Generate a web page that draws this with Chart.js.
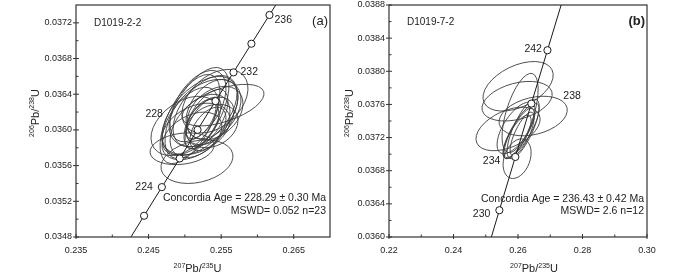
<!DOCTYPE html>
<html><head><meta charset="utf-8">
<script src="https://cdn.jsdelivr.net/npm/chart.js@4/dist/chart.umd.min.js"></script>
<style>
html,body{margin:0;padding:0;background:#fff;}
#wrap{position:relative;width:700px;height:273px;overflow:hidden;background:#fff}
#wa{position:absolute;left:0;top:0;width:335px;height:273px}
#wb{position:absolute;left:335px;top:0;width:365px;height:273px}
</style></head><body>
<div id="wrap"><div id="wa"><canvas id="ca" width="335" height="273"></canvas></div><div id="wb"><canvas id="cb" width="365" height="273"></canvas></div></div>
<script>
// ---------- Panel (a): D1019-2-2 ----------
const aSample = 'D1019-2-2';
const aPanel = '(a)';
const aAgeText = 'Concordia Age = 228.29 ± 0.30 Ma';
const aMswdText = 'MSWD= 0.052 n=23';
// analysis ellipses: 207Pb/235U, 2s, 206Pb/238U, 2s, rho
const aX    = [0.25526,0.25167,0.24961,0.25167,0.25209,0.25071,0.25278,0.25374,0.25209,0.25154,0.25291,0.25250,0.25346,0.25098,0.25415,0.25181,0.25374,0.25071,0.25319,0.25222,0.25415,0.25002,0.25278];
const aXerr = [0.00565,0.00496,0.00441,0.00441,0.00524,0.00413,0.00441,0.00358,0.00413,0.00469,0.00303,0.00248,0.00331,0.00413,0.00386,0.00386,0.00358,0.00386,0.00248,0.00207,0.00455,0.00469,0.00496];
const aY    = [0.036278,0.035644,0.035789,0.036189,0.036156,0.036122,0.036211,0.036233,0.036044,0.036011,0.036122,0.036078,0.036100,0.035933,0.036189,0.036267,0.036044,0.036100,0.036011,0.036122,0.036322,0.036044,0.036189];
const aYerr = [0.000233,0.000244,0.000178,0.000511,0.000444,0.000500,0.000400,0.000333,0.000356,0.000289,0.000333,0.000289,0.000267,0.000267,0.000300,0.000400,0.000244,0.000378,0.000244,0.000222,0.000356,0.000333,0.000378];
const aRho  = [0.55,0.25,0.20,0.60,0.50,0.60,0.50,0.40,0.45,0.35,0.60,0.65,0.40,0.40,0.35,0.50,0.25,0.55,0.50,0.60,0.40,0.40,0.40];
// concordia age marks (Ma) and their ratios
const aConcAge = [222,224,226,228,230,232,234,236];
const aConcX   = [0.24438,0.24683,0.24929,0.25175,0.25422,0.25670,0.25917,0.26166];
const aConcY   = [0.035038,0.035359,0.035680,0.036001,0.036323,0.036645,0.036966,0.037288];
const aLineX   = [0.24193,0.24438,0.24683,0.24929,0.25175,0.25422,0.25670,0.25917,0.26166,0.26414];
const aLineY   = [0.034716,0.035038,0.035359,0.035680,0.036001,0.036323,0.036645,0.036966,0.037288,0.037610];
const aXTicks  = [0.235,0.245,0.255,0.265];
const aXMinor  = [0.240,0.250,0.260];
const aYTicks  = [0.0348,0.0352,0.0356,0.0360,0.0364,0.0368,0.0372];
const aYMinor  = [0.0350,0.0354,0.0358,0.0362,0.0366,0.0370];
const aLabelAges = [224,228,232,236];

// ---------- Panel (b): D1019-7-2 ----------
const bSample = 'D1019-7-2';
const bPanel = '(b)';
const bAgeText = 'Concordia Age = 236.43 ± 0.42 Ma';
const bMswdText = 'MSWD= 2.6 n=12';
const bX    = [0.26003,0.25972,0.26470,0.25692,0.26065,0.25972,0.26096,0.26034,0.26159,0.25972,0.26128,0.25941];
const bXerr = [0.01089,0.01089,0.01058,0.00995,0.00560,0.00435,0.00560,0.00467,0.00498,0.00435,0.00373,0.00591];
const bY    = [0.037819,0.037639,0.037460,0.037304,0.037496,0.036945,0.037280,0.037256,0.037304,0.037209,0.037244,0.037316];
const bYerr = [0.000299,0.000239,0.000239,0.000263,0.000479,0.000239,0.000335,0.000299,0.000359,0.000263,0.000263,0.000311];
const bRho  = [0.45,0.35,0.30,0.45,0.60,0.30,0.80,0.80,0.75,0.75,0.75,0.65];
const bConcAge = [230,234,238,242];
const bConcX   = [0.25422,0.25917,0.26414,0.26913];
const bConcY   = [0.036323,0.036966,0.037610,0.038254];
const bLineX   = [0.24929,0.25422,0.25917,0.26414,0.26913,0.27414];
const bLineY   = [0.035680,0.036323,0.036966,0.037610,0.038254,0.038898];
const bXTicks  = [0.22,0.24,0.26,0.28,0.30];
const bXMinor  = [0.23,0.25,0.27,0.29];
const bYTicks  = [0.0360,0.0364,0.0368,0.0372,0.0376,0.0380,0.0384,0.0388];
const bYMinor  = [0.0362,0.0366,0.0370,0.0374,0.0378,0.0382,0.0386];
const bLabelAges = [230,234,238,242];

const FONT = '"Liberation Sans", Arial, Helvetica, sans-serif';
const INK = '#222';

function ellipsePlugin(E){
  return {id:'ellipses', beforeDatasetsDraw(chart){
    const {ctx, chartArea:ca, scales:{x,y}} = chart;
    ctx.save();
    ctx.beginPath(); ctx.rect(ca.left, ca.top, ca.right-ca.left, ca.bottom-ca.top); ctx.clip();
    ctx.strokeStyle = '#3c3c3c'; ctx.lineWidth = 0.9;
    for (let i=0;i<E.x.length;i++){
      const cx = x.getPixelForValue(E.x[i]), cy = y.getPixelForValue(E.y[i]);
      const ax = Math.abs(x.getPixelForValue(E.x[i]+E.sx[i]) - cx);
      const ay = Math.abs(y.getPixelForValue(E.y[i]+E.sy[i]) - cy);
      const r = -E.rho[i];
      const a = ax*ax, c = ay*ay, b = r*ax*ay;
      const m = (a+c)/2, q = Math.sqrt(((a-c)/2)**2 + b*b);
      const l1 = m+q, l2 = Math.max(m-q, 0.01);
      const th = 0.5*Math.atan2(2*b, a-c);
      ctx.beginPath(); ctx.ellipse(cx, cy, Math.sqrt(l1), Math.sqrt(l2), th, 0, Math.PI*2); ctx.stroke();
    }
    ctx.restore();
  }};
}

function framePlugin(T){
  return {id:'frame', afterDatasetsDraw(chart){
    const {ctx, chartArea:ca, scales:{x,y}} = chart;
    ctx.save(); ctx.strokeStyle = '#333'; ctx.lineWidth = 1.2;
    ctx.strokeRect(ca.left, ca.top, ca.right-ca.left, ca.bottom-ca.top);
    ctx.lineWidth = 1;
    ctx.beginPath();
    T.xMajor.forEach(v=>{const p=x.getPixelForValue(v); ctx.moveTo(p, ca.bottom+2); ctx.lineTo(p, ca.bottom-3);});
    T.xMinor.forEach(v=>{const p=x.getPixelForValue(v); ctx.moveTo(p, ca.bottom); ctx.lineTo(p, ca.bottom-2.5);});
    T.yMajor.forEach(v=>{const p=y.getPixelForValue(v); ctx.moveTo(ca.left-3, p); ctx.lineTo(ca.left+3, p);});
    T.yMinor.forEach(v=>{const p=y.getPixelForValue(v); ctx.moveTo(ca.left, p); ctx.lineTo(ca.left+2.5, p);});
    ctx.stroke(); ctx.restore();
  }};
}

function richWidth(ctx, parts, big, small){
  let w=0; parts.forEach(p=>{ctx.font = (p.sup? small: big)+'px '+FONT; w+=ctx.measureText(p.t).width;}); return w;
}
function drawRich(ctx, parts, pos, rotate){
  const big=11, small=7;
  ctx.save();
  ctx.translate(pos[0], pos[1]);
  if (rotate) ctx.rotate(-Math.PI/2);
  const w = richWidth(ctx, parts, big, small);
  let xx = -w/2;
  ctx.fillStyle = INK; ctx.textBaseline='alphabetic'; ctx.textAlign='left';
  parts.forEach(p=>{
    ctx.font = (p.sup? small: big)+'px '+FONT;
    ctx.fillText(p.t, xx, p.sup? -4.5 : 0);
    xx += ctx.measureText(p.t).width;
  });
  ctx.restore();
}

function textPlugin(L){
  return {id:'texts', afterDraw(chart){
    const {ctx, chartArea:ca, scales:{x,y}} = chart;
    ctx.save();
    ctx.fillStyle = INK; ctx.textBaseline = 'middle';
    ctx.font = '10px '+FONT; ctx.textAlign='left';
    ctx.fillText(L.sample, ca.left+18, L.sampleY);
    ctx.font = (L.panelBold?'bold ':'')+'13px '+FONT; ctx.textAlign='right';
    ctx.fillText(L.panel, ca.right-2, 21);
    ctx.font = '10.5px '+FONT;
    L.ages.forEach(a=>{
      const i = L.concAge.indexOf(a);
      const o = L.offs[a];
      const px = x.getPixelForValue(L.concX[i]), py = y.getPixelForValue(L.concY[i]);
      ctx.textAlign = o[2];
      ctx.fillText(String(a), px+o[0], py+o[1]);
    });
    ctx.textAlign='right';
    ctx.fillText(L.ageText, ca.right-L.ageR, L.ageY1);
    ctx.fillText(L.mswdText, ca.right-L.ageR, L.ageY2);
    ctx.restore();
    drawRich(ctx, [{t:'207',sup:true},{t:'Pb/'},{t:'235',sup:true},{t:'U'}], [L.xTitleX, 272], false);
    drawRich(ctx, [{t:'206',sup:true},{t:'Pb/'},{t:'238',sup:true},{t:'U'}], [L.yTitleX, 113], true);
  }};
}

function build(id, P){
  const pts = (xs, ys) => xs.map((v,i)=>({x:v, y:ys[i]}));
  return new Chart(document.getElementById(id), {
    type:'scatter',
    data:{datasets:[
      {label:'concordia', data:pts(P.lineX,P.lineY), showLine:true, borderColor:'#1a1a1a', borderWidth:1, pointRadius:0, fill:false, order:2},
      {label:'age marks', data:pts(P.concX,P.concY), showLine:false, pointRadius:3.6, pointBackgroundColor:'#fff', pointBorderColor:'#1a1a1a', pointBorderWidth:1, order:1}
    ]},
    options:{
      responsive:false, animation:false, events:[],
      layout:{padding:{top:3, right:P.padR, left:0, bottom:0}},
      plugins:{legend:{display:false}, tooltip:{enabled:false}},
      scales:{
        x:{type:'linear', min:P.xMin, max:P.xMax,
           grid:{display:false, drawTicks:false}, border:{display:false},
           ticks:{font:{family:FONT,size:9}, color:INK, padding:8, maxRotation:0, autoSkip:false,
                  callback:(v)=>Number(v).toFixed(P.xDec)},
           afterBuildTicks:s=>{s.ticks = P.xMajor.map(v=>({value:v}));},
           afterFit:s=>{s.height=36; s.paddingLeft=0; s.paddingRight=0;}},
        y:{type:'linear', min:P.yMin, max:P.yMax,
           grid:{display:false, drawTicks:false}, border:{display:false},
           ticks:{font:{family:FONT,size:9}, color:INK, padding:4, autoSkip:false,
                  callback:(v)=>Number(v).toFixed(4)},
           afterBuildTicks:s=>{s.ticks = P.yMajor.map(v=>({value:v}));},
           afterFit:s=>{s.width=P.yW; s.paddingTop=0; s.paddingBottom=0;}}
      }
    },
    plugins:[ellipsePlugin(P.E), framePlugin(P), textPlugin(P.L)]
  });
}

build('ca', {
  xMin:0.235, xMax:0.270, yMin:0.0348, yMax:0.0374, xDec:3, padR:5, yW:76,
  xMajor:aXTicks, xMinor:aXMinor, yMajor:aYTicks, yMinor:aYMinor,
  lineX:aLineX, lineY:aLineY, concX:aConcX, concY:aConcY,
  E:{x:aX, sx:aXerr, y:aY, sy:aYerr, rho:aRho},
  L:{sample:aSample, sampleY:23.5, panel:aPanel, panelBold:false,
     concAge:aConcAge, concX:aConcX, concY:aConcY, ages:aLabelAges,
     offs:{224:[-9,-0.5,'right'],228:[-34.6,-16,'right'],232:[7,0,'left'],236:[5,5.5,'left']},
     ageText:aAgeText, mswdText:aMswdText, ageR:4, ageY1:198.5, ageY2:211.5,
     xTitleX:197.5, yTitleX:38.5}
});
build('cb', {
  xMin:0.22, xMax:0.30, yMin:0.0360, yMax:0.0388, xDec:2, padR:53, yW:54,
  xMajor:bXTicks, xMinor:bXMinor, yMajor:bYTicks, yMinor:bYMinor,
  lineX:bLineX, lineY:bLineY, concX:bConcX, concY:bConcY,
  E:{x:bX, sx:bXerr, y:bY, sy:bYerr, rho:bRho},
  L:{sample:bSample, sampleY:22.5, panel:bPanel, panelBold:true,
     concAge:bConcAge, concX:bConcX, concY:bConcY, ages:bLabelAges,
     offs:{230:[-9,3.5,'right'],234:[-15,4,'right'],238:[32,-7,'left'],242:[-5.5,-1,'right']},
     ageText:bAgeText, mswdText:bMswdText, ageR:3, ageY1:199.5, ageY2:211,
     xTitleX:199, yTitleX:18}
});
</script>
</body></html>
